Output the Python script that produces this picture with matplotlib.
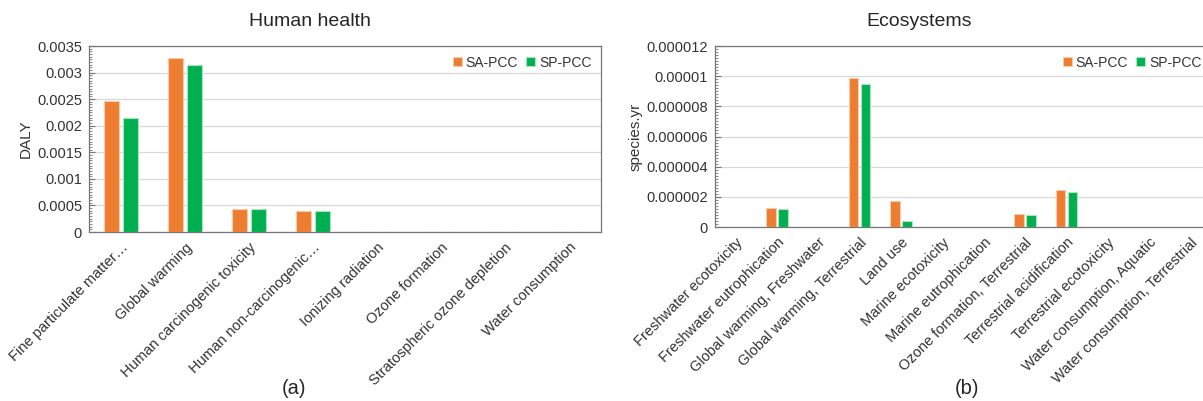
import matplotlib
matplotlib.use("Agg")
import matplotlib.pyplot as plt
import numpy as np
from matplotlib.ticker import FuncFormatter, MultipleLocator, AutoMinorLocator

plt.rcParams["font.family"] = ["Liberation Sans", "DejaVu Sans"]

series = ["SA-PCC", "SP-PCC"]
colors = ["#ED7D31", "#00B050"]
edges = ["#F8CBAD", "#A9E5BF"]

health_cats = ["Fine particulate matter\u2026", "Global warming",
               "Human carcinogenic toxicity", "Human non-carcinogenic\u2026",
               "Ionizing radiation", "Ozone formation",
               "Stratospheric ozone depletion", "Water consumption"]
health_sa = [0.00247, 0.00328, 0.000441, 0.000404, 0, 0, 0, 0]
health_sp = [0.00214, 0.00315, 0.000435, 0.000397, 0, 0, 0, 0]

eco_cats = ["Freshwater ecotoxicity", "Freshwater eutrophication",
            "Global warming, Freshwater", "Global warming, Terrestrial",
            "Land use", "Marine ecotoxicity", "Marine eutrophication",
            "Ozone formation, Terrestrial", "Terrestrial acidification",
            "Terrestrial ecotoxicity", "Water consumption, Aquatic",
            "Water consumption, Terrestrial"]
eco_sa = [0, 1.26e-6, 0, 9.90e-6, 1.72e-6, 0, 0, 0.88e-6, 2.43e-6, 0, 0, 0]
eco_sp = [0, 1.22e-6, 0, 9.50e-6, 0.40e-6, 0, 0, 0.80e-6, 2.30e-6, 0, 0, 0]

TXT = "#333333"
SPINE = "#767676"


def plain(v, pos):
    if abs(v) < 1e-15:
        return "0"
    return ("%.6f" % v).rstrip("0").rstrip(".")


def draw(ax, cats, sa, sp, ymax, ystep, ylabel):
    x = np.arange(len(cats))
    w = 0.23
    ax.bar(x - 0.145, sa, w, color=colors[0], edgecolor=edges[0], linewidth=0.8,
           label=series[0], zorder=3)
    ax.bar(x + 0.145, sp, w, color=colors[1], edgecolor=edges[1], linewidth=0.8,
           label=series[1], zorder=3)
    ax.set_xlim(-0.5, len(cats) - 0.5)
    ax.set_ylim(0, ymax)
    ax.yaxis.set_major_locator(MultipleLocator(ystep))
    ax.yaxis.set_minor_locator(AutoMinorLocator(10))
    ax.yaxis.set_major_formatter(FuncFormatter(plain))
    ax.grid(axis="y", color="#d9d9d9", linewidth=0.9, zorder=0)
    ax.set_axisbelow(True)
    ax.set_xticks(x)
    ax.set_xticklabels(cats, rotation=45, ha="right", rotation_mode="anchor",
                       fontsize=10.5, color=TXT)
    ax.tick_params(axis="x", length=0, pad=6)
    ax.tick_params(axis="y", which="major", direction="in", length=4,
                   labelsize=10.5, labelcolor=TXT, color=SPINE, pad=5)
    ax.tick_params(axis="y", which="minor", direction="in", length=2.5,
                   color=SPINE)
    for s in ax.spines.values():
        s.set_color(SPINE)
        s.set_linewidth(0.9)
    ax.set_ylabel(ylabel, fontsize=11, color=TXT, labelpad=3)
    leg = ax.legend(loc="upper right", ncol=2, frameon=False, fontsize=10,
                    handlelength=0.6, handleheight=0.6, handletextpad=0.3,
                    columnspacing=0.6, borderaxespad=0.3)
    for t in leg.get_texts():
        t.set_color(TXT)


fig = plt.figure(figsize=(12.03, 4.01), dpi=100)
W, H = 1203, 401

ax1 = fig.add_axes([89 / W, 1 - 232 / H, (601 - 89) / W, (232 - 46) / H])
draw(ax1, health_cats, health_sa, health_sp, 0.0035, 0.0005, "DALY")

ax2 = fig.add_axes([715 / W, 1 - 227 / H, (1211 - 715) / W, (227 - 46) / H])
draw(ax2, eco_cats, eco_sa, eco_sp, 0.000012, 0.000002, "species.yr")

fig.text(310 / W, 1 - 22 / H, "Human health", ha="center", va="center",
         fontsize=14, color="#262626")
fig.text(919 / W, 1 - 22 / H, "Ecosystems", ha="center", va="center",
         fontsize=14, color="#262626")
fig.text(294 / W, 1 - 389 / H, "(a)", ha="center", va="center", fontsize=14.5,
         color="#262626")
fig.text(967 / W, 1 - 389 / H, "(b)", ha="center", va="center", fontsize=14.5,
         color="#262626")

fig.savefig("out.png", dpi=100)
